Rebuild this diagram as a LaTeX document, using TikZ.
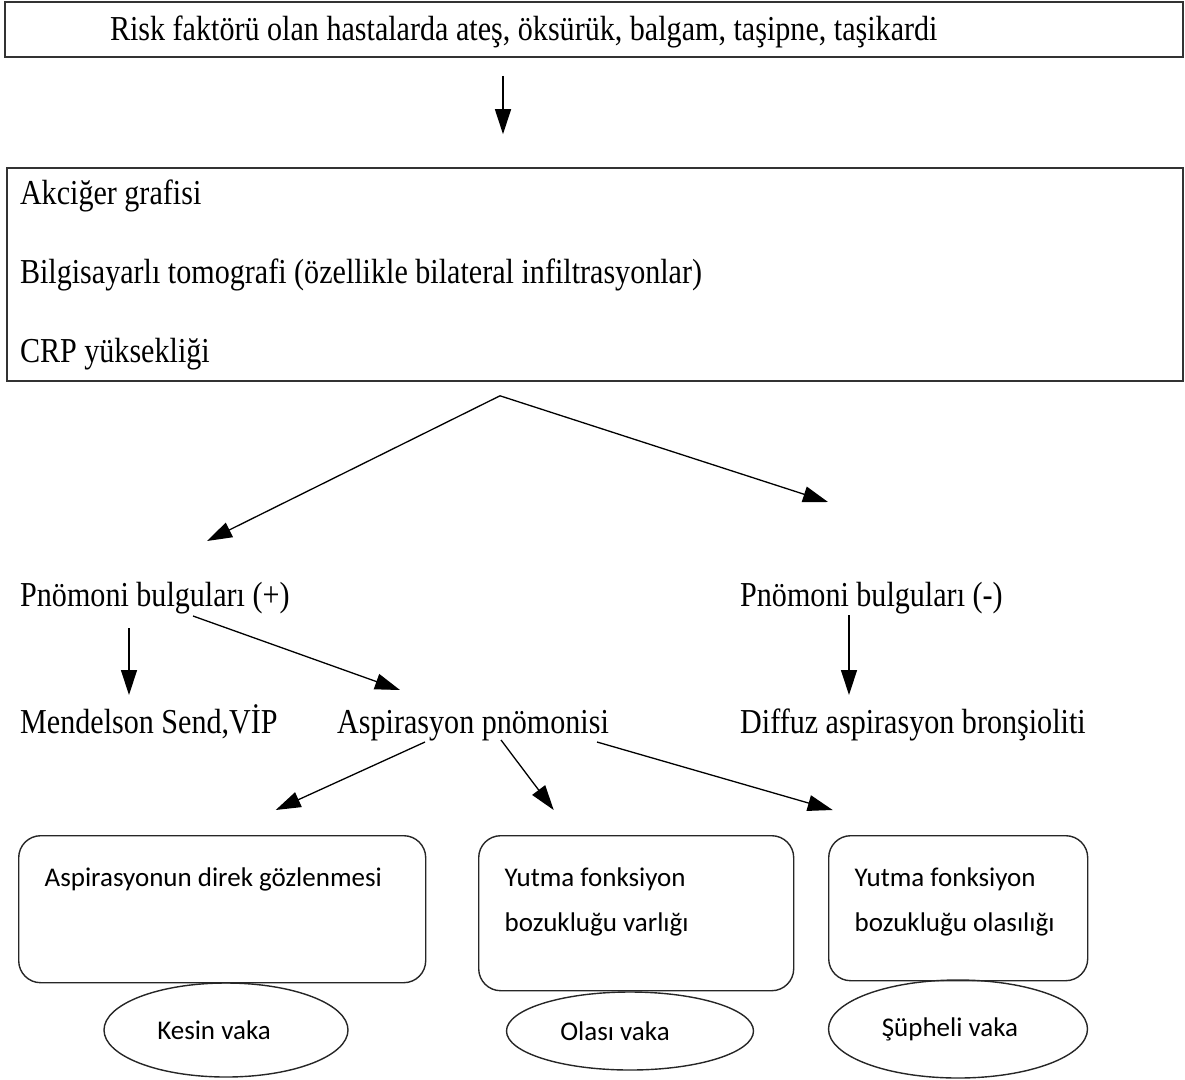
\documentclass[tikz,border=0pt]{standalone}
\usepackage{fontspec}
\setmainfont[FakeStretch=0.86]{Liberation Serif}
\newfontfamily\boxfont{Carlito}
\usetikzlibrary{arrows.meta, shapes.geometric}
\newcommand{\toplines}[3]{\parbox[c][#1][t]{#2}{\raggedright\rule{0pt}{20pt}#3}}

\begin{document}
\begin{tikzpicture}[x=1pt, y=-1pt,
plain/.style={inner sep=0pt, anchor=base west, font=\fontsize{35}{40}\selectfont},
frame/.style={rectangle, draw=black!80, line width=1.6pt, align=flush left},
rbox/.style={rectangle, rounded corners=22pt, draw=black!85, line width=1.4pt,
inner xsep=26pt, inner ysep=31pt, anchor=north west,
font=\boxfont\fontsize{27}{45}\selectfont},
oval/.style={ellipse, draw=black!85, line width=1.4pt, inner sep=0pt,
font=\boxfont\fontsize{27}{32}\selectfont},
arrow/.style={-{Triangle[length=25pt,width=16pt]}, line width=1.3pt}]
\useasboundingbox (0,0) rectangle (1185,1079);
\node[frame, minimum height=55pt, text width=1160pt, inner xsep=9pt, inner ysep=0pt,
    text height=29pt, font=\fontsize{35}{40}\selectfont] (risk) at (594,29.5)
    {\hspace*{96pt}Risk faktörü olan hastalarda ateş, öksürük, balgam, taşipne, taşikardi};
\node[frame, minimum height=213pt, text width=1150pt, inner xsep=13pt,
    font=\fontsize{35}{79}\selectfont] (imaging) at (595,274.5)
    {Akciğer grafisi\\Bilgisayarlı tomografi (özellikle bilateral infiltrasyonlar)\\CRP yüksekliği};
\node[plain] (posf) at (20,606) {Pnömoni bulguları (+)};
\node[plain] (negf) at (740,606) {Pnömoni bulguları (-)};
\node[plain] (mendelson) at (20,733) {Mendelson Send,VİP};
\node[plain] (asppn) at (337,733) {Aspirasyon pnömonisi};
\node[plain] (diffuz) at (740,733) {Diffuz aspirasyon bronşioliti};
\node[rbox] (direct) at (18,835)
    {\toplines{85pt}{355pt}{Aspirasyonun~direk~gözlenmesi}};
\node[rbox] (present) at (478,835)
    {\toplines{93pt}{263pt}{Yutma~fonksiyon\\bozukluğu~varlığı}};
\node[rbox] (possible) at (828,835)
    {\toplines{83pt}{207pt}{Yutma~fonksiyon\\bozukluğu~olasılığı}};
\node[oval, minimum width=244pt, minimum height=94pt] (kesin) at (226,1030)
    {Kesin vaka\hspace*{24pt}};
\node[oval, minimum width=247pt, minimum height=78pt] (olasi) at (630,1031)
    {Olası vaka\hspace*{30pt}};
\node[oval, minimum width=259pt, minimum height=98pt] (supheli) at (958,1029)
    {Şüpheli vaka\hspace*{16pt}};
\coordinate (fork) at ([xshift=-95pt,yshift=-14pt]imaging.south);
\draw[arrow] ([xshift=-91pt,yshift=-18pt]risk.south) -- ([xshift=-92pt,yshift=33pt]imaging.north);
\draw[arrow] (fork) -- ([xshift=187pt,yshift=65pt]posf.base west);
\draw[arrow] (fork) -- ([xshift=88pt,yshift=104pt]negf.base west);
\draw[arrow] ([xshift=109pt,yshift=-22pt]posf.base west) -- ([xshift=109pt,yshift=38pt]mendelson.base west);
\draw[arrow] ([xshift=173pt,yshift=-10pt]posf.base west) -- ([xshift=63pt,yshift=43pt]asppn.base west);
\draw[arrow] ([xshift=109pt,yshift=-9pt]negf.base west) -- ([xshift=109pt,yshift=38pt]diffuz.base west);
\draw[arrow] ([xshift=88pt,yshift=-9pt]asppn.base west) -- ([xshift=53.5pt,yshift=25pt]direct.north);
\draw[arrow] ([xshift=164pt,yshift=-7pt]asppn.base west) -- ([xshift=-82.5pt,yshift=25pt]present.north);
\draw[arrow] ([xshift=260pt,yshift=-9pt]asppn.base west) -- ([xshift=-125.5pt,yshift=25pt]possible.north);
\end{tikzpicture}
\end{document}
